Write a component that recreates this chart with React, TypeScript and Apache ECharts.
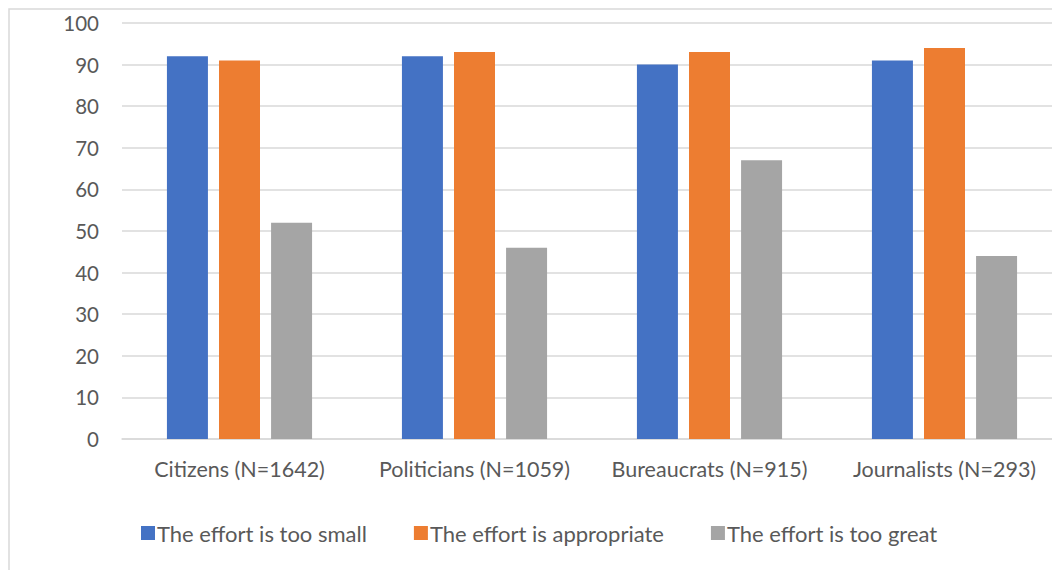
import React, { useEffect, useRef } from "react";
import * as echarts from "echarts";

const categories = ["Citizens (N=1642)", "Politicians (N=1059)", "Bureaucrats (N=915)", "Journalists (N=293)"];
const tooSmall = [92, 92, 90, 91];
const appropriate = [91, 93, 93, 94];
const tooGreat = [52, 46, 67, 44];
const seriesNames = ["The effort is too small", "The effort is appropriate", "The effort is too great"];
const colors = ["#4472C4", "#ED7D31", "#A5A5A5"];

export default function App() {
  const ref = useRef<HTMLDivElement>(null);
  useEffect(() => {
    if (!ref.current) return;
    const chart = echarts.init(ref.current, undefined, { renderer: "svg" });
    const font = "Lato, 'Open Sans', sans-serif";
    const data = [tooSmall, appropriate, tooGreat];
    chart.setOption({
      animation: false,
      backgroundColor: "#ffffff",
      graphic: [
        {
          type: "rect",
          shape: { x: 9, y: 9, width: 1100, height: 600 },
          style: { fill: "none", stroke: "#d9d9d9", lineWidth: 1.5 },
          silent: true,
          z: -1,
        },
      ],
      grid: { left: 122, right: 8, top: 23, bottom: 131, containLabel: false },
      legend: {
        bottom: 21,
        left: 136,
        itemWidth: 14,
        itemHeight: 14,
        itemGap: 47,
        icon: "rect",
        textStyle: { color: "#595959", fontSize: 22, fontFamily: font, padding: [0, 0, 0, -3] },
        data: seriesNames,
      },
      xAxis: {
        type: "category",
        data: categories,
        axisLine: { lineStyle: { color: "#d9d9d9", width: 1.5 } },
        axisTick: { show: false },
        axisLabel: { color: "#595959", fontSize: 21.5, fontFamily: font, margin: 19, interval: 0 },
      },
      yAxis: {
        type: "value",
        min: 0,
        max: 100,
        interval: 10,
        axisLine: { show: false },
        axisTick: { show: false },
        splitLine: { lineStyle: { color: "#d9d9d9", width: 1.5 } },
        axisLabel: { color: "#595959", fontSize: 20.5, fontFamily: font, margin: 23 },
      },
      series: seriesNames.map((name, i) => ({
        name,
        type: "bar",
        data: data[i],
        barWidth: 41,
        barGap: "27%",
        itemStyle: { color: colors[i] },
      })),
    });
    return () => chart.dispose();
  }, []);
  return (
    <div style={{ position: "absolute", left: 0, top: 0, width: 1052, height: 570, overflow: "hidden" }}>
      <div ref={ref} style={{ width: 1070, height: 570 }} />
    </div>
  );
}
